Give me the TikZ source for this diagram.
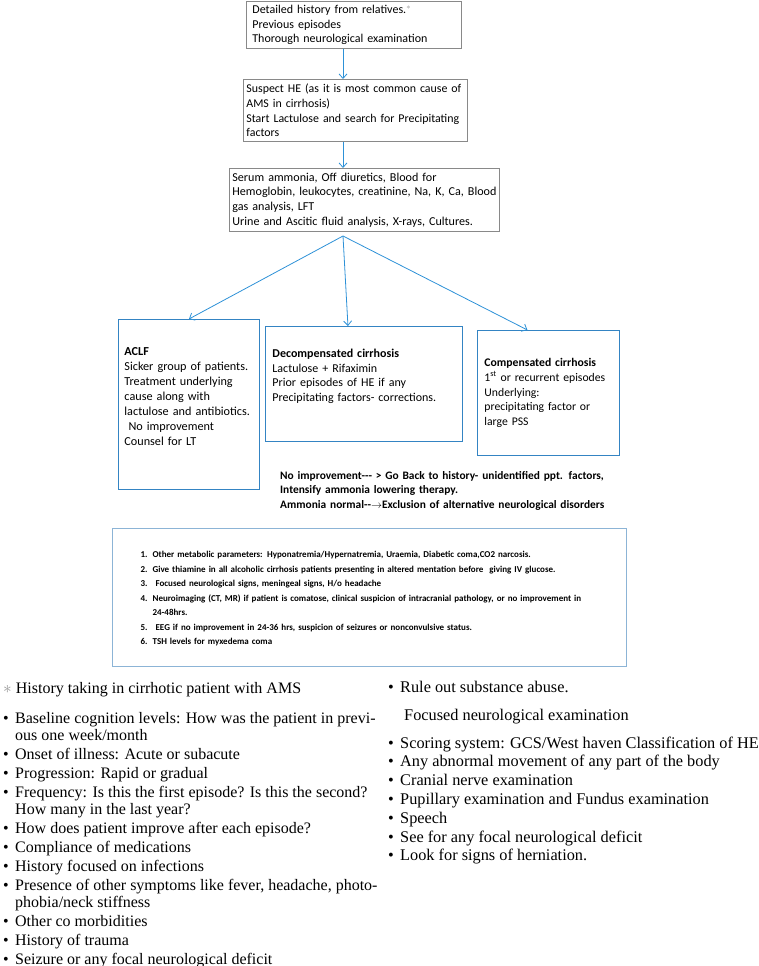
\documentclass[tikz,border=0pt]{standalone}
\usepackage{fontspec}
\setmainfont{Liberation Serif}
\newfontfamily\carlito{Carlito}
\usepackage{xcolor}
\usetikzlibrary{arrows.meta, positioning, calc}

\definecolor{boxgray}{RGB}{137,137,137}
\definecolor{linkblue}{RGB}{45,145,215}
\definecolor{boxblue}{RGB}{52,132,195}
\definecolor{listblue}{RGB}{140,180,214}
\definecolor{stargray}{RGB}{150,150,150}

\tikzstyle{query} = [rectangle, draw=boxgray, line width=0.8pt, align=left, anchor=north west]
\tikzstyle{group} = [rectangle, draw=boxblue, line width=0.9pt, align=left, anchor=north west, inner ysep=4pt]
\tikzstyle{listbox} = [rectangle, draw=listblue, line width=1.2pt, anchor=north west, inner xsep=28pt, inner ysep=0pt, text width=458pt, font=\carlito\bfseries\fontsize{9}{14.5}\selectfont]
\tikzstyle{plain} = [inner sep=0pt, anchor=base west]
\tikzstyle{arrow} = [draw=linkblue, line width=0.8pt, -{Straight Barb[length=4.5pt,width=8pt]}]

\begin{document}
\begin{tikzpicture}[x=1pt, y=-1pt]
    \useasboundingbox (0,0) rectangle (759,966);

    % Work-up boxes
    \node (history) [query, inner xsep=6pt, text width=203pt, minimum height=47pt, font=\carlito\fontsize{12}{14.5}\selectfont] at (246,1)
        {Detailed history from relatives.\textsuperscript{\textcolor{stargray}{$\ast$}}\\Previous episodes\\Thorough neurological examination};
    \node (suspect) [query, inner xsep=3pt, text width=218pt, minimum height=62pt, font=\carlito\fontsize{11.9}{14.7}\selectfont] at (243,79)
        {Suspect HE (as it is most common cause of\\AMS in cirrhosis)\\Start Lactulose and search for Precipitating\\factors};
    \node (labs) [query, inner xsep=3pt, text width=264pt, minimum height=63pt, font=\carlito\fontsize{12.1}{14.7}\selectfont] at (229,168)
        {Serum ammonia, Off diuretics, Blood for\\Hemoglobin, leukocytes, creatinine, Na, K, Ca, Blood\\gas analysis, LFT\\Urine and Ascitic fluid analysis, X-rays, Cultures.};
    \coordinate (fan) at (343,236);

    \draw [arrow] (history.south -| fan) -- (suspect.north -| fan);
    \draw [arrow] (suspect.south -| fan) -- (labs.north -| fan);

    % Patient groups
    \node (aclf) [group, inner xsep=6pt, text width=129pt, text height=32pt, text depth=130pt, font=\carlito\fontsize{12.2}{15}\selectfont] at (118,319)
        {\textbf{ACLF}\\Sicker group of patients.\\Treatment underlying\\cause along with\\lactulose and antibiotics.\\\ No improvement\\Counsel for LT};
    \node (decomp) [group, inner xsep=7pt, text width=183pt, text height=27pt, text depth=80pt, font=\carlito\fontsize{12}{14.7}\selectfont] at (265,326)
        {\textbf{Decompensated cirrhosis}\\Lactulose + Rifaximin\\Prior episodes of HE if any\\Precipitating factors- corrections.};
    \node (comp) [group, inner xsep=7pt, text width=128pt, text height=32pt, text depth=85pt, font=\carlito\fontsize{11.7}{14.8}\selectfont] at (477,330)
        {\textbf{Compensated cirrhosis}\\1\textsuperscript{st} or recurrent episodes\\Underlying:\\precipitating factor or\\large PSS};

    \draw [arrow] (fan) -- (aclf.north);
    \draw [arrow] (fan) -- ([xshift=-16pt]decomp.north);
    \draw [arrow] (fan) -- ([xshift=-21pt]comp.north);

    % Follow-up
    \node (followup) [plain, text width=350pt, align=left, font=\carlito\bfseries\fontsize{11.4}{14.5}\selectfont] at (280,479)
        {No improvement-{}-{}- > Go Back to history- unidentified ppt. factors,\\Intensify ammonia lowering therapy.\\Ammonia normal-{}-$\rightarrow$Exclusion of alternative neurological disorders};

    \node (others) [listbox, text height=29pt, text depth=109pt] at (112,528) {%
        \begin{tabular}[t]{@{}p{12pt}@{}l@{}}
        1. & Other metabolic parameters: Hyponatremia/Hypernatremia, Uraemia, Diabetic coma,CO2 narcosis.\\
        2. & Give thiamine in all alcoholic cirrhosis patients presenting in altered mentation before\ \ giving IV glucose.\\
        3. & \ Focused neurological signs, meningeal signs, H/o headache\\
        4. & Neuroimaging (CT, MR) if patient is comatose, clinical suspicion of intracranial pathology, or no improvement in\\
           & 24-48hrs.\\
        5. & \ EEG if no improvement in 24-36 hrs, suspicion of seizures or nonconvulsive status.\\
        6. & TSH levels for myxedema coma
        \end{tabular}};

    % History taking notes
    \node (histhead) [plain, font=\fontsize{16}{17}\selectfont] at (3,693)
        {\textcolor{stargray}{$\ast$}\hspace{4pt}History taking in cirrhotic patient with AMS};
    \node (histlist) [plain, font=\fontsize{16}{17}\selectfont] at (3,723) {%
        \begin{tabular}[t]{@{}p{12pt}@{}l@{}}
        \textbullet & Baseline cognition levels: How was the patient in previ-\\
                    & ous one week/month\\[2pt]
        \textbullet & Onset of illness: Acute or subacute\\[2pt]
        \textbullet & Progression: Rapid or gradual\\[2pt]
        \textbullet & Frequency: Is this the first episode? Is this the second?\\
                    & How many in the last year?\\[2pt]
        \textbullet & How does patient improve after each episode?\\[2pt]
        \textbullet & Compliance of medications\\[2pt]
        \textbullet & History focused on infections\\[2pt]
        \textbullet & Presence of other symptoms like fever, headache, photo-\\
                    & phobia/neck stiffness\\[2pt]
        \textbullet & Other co morbidities\\[2pt]
        \textbullet & History of trauma\\[2pt]
        \textbullet & Seizure or any focal neurological deficit
        \end{tabular}};
    \node (examlist) [plain, font=\fontsize{16.3}{17}\selectfont] at (388,692) {%
        \begin{tabular}[t]{@{}p{12pt}@{}l@{}}
        \textbullet & Rule out substance abuse.\\[11pt]
                    & \hspace*{4pt}Focused neurological examination\\[11pt]
        \textbullet & Scoring system: GCS/West haven Classification of HE\\[1.8pt]
        \textbullet & Any abnormal movement of any part of the body\\[1.8pt]
        \textbullet & Cranial nerve examination\\[1.8pt]
        \textbullet & Pupillary examination and Fundus examination\\[1.8pt]
        \textbullet & Speech\\[1.8pt]
        \textbullet & See for any focal neurological deficit\\[1.8pt]
        \textbullet & Look for signs of herniation.
        \end{tabular}};
\end{tikzpicture}
\end{document}
